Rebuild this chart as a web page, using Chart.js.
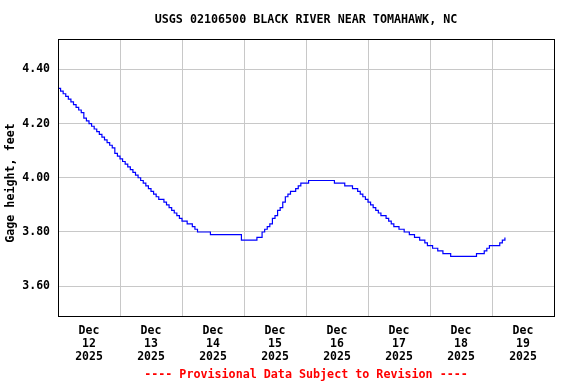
<!DOCTYPE html>
<html>
<head>
<meta charset="utf-8">
<script src="https://cdn.jsdelivr.net/npm/chart.js@4.4.1/dist/chart.umd.min.js"></script>
<style>
  html, body { margin: 0; padding: 0; background: #fff; }
  canvas { display: block; }
</style>
</head>
<body>
<canvas id="gageChart" width="576" height="384"></canvas>
<script>
/* ---------- text ---------- */
const chartTitle = 'USGS 02106500 BLACK RIVER NEAR TOMAHAWK, NC';
const yTitle = 'Gage height, feet';
const footerText = '---- Provisional Data Subject to Revision ----';

/* ---------- axis labels ---------- */
const dayLabels = ['12', '13', '14', '15', '16', '17', '18', '19'];
const yTicks = [3.6, 3.8, 4.0, 4.2, 4.4];

/* ---------- gage height, hourly from Dec 12 2025 00:00 ---------- */
const gage = [
  4.33, 4.32, 4.31, 4.30, 4.29, 4.28, 4.27, 4.26, 4.25, 4.24,   // 0-9
  4.22, 4.21, 4.20, 4.19, 4.18, 4.17, 4.16, 4.15, 4.14, 4.13,   // 10-19
  4.12, 4.11, 4.09, 4.08, 4.07, 4.06, 4.05, 4.04, 4.03, 4.02,   // 20-29
  4.01, 4.00, 3.99, 3.98, 3.97, 3.96, 3.95, 3.94, 3.93, 3.92,   // 30-39
  3.92, 3.91, 3.90, 3.89, 3.88, 3.87, 3.86, 3.85, 3.84, 3.84,   // 40-49
  3.83, 3.83, 3.82, 3.81, 3.80, 3.80, 3.80, 3.80, 3.80, 3.79,   // 50-59
  3.79, 3.79, 3.79, 3.79, 3.79, 3.79, 3.79, 3.79, 3.79, 3.79,   // 60-69
  3.79, 3.77, 3.77, 3.77, 3.77, 3.77, 3.77, 3.78, 3.78, 3.80,   // 70-79
  3.81, 3.82, 3.83, 3.85, 3.86, 3.88, 3.89, 3.91, 3.93, 3.94,   // 80-89
  3.95, 3.95, 3.96, 3.97, 3.98, 3.98, 3.98, 3.99, 3.99, 3.99,   // 90-99
  3.99, 3.99, 3.99, 3.99, 3.99, 3.99, 3.99, 3.98, 3.98, 3.98,   // 100-109
  3.98, 3.97, 3.97, 3.97, 3.96, 3.96, 3.95, 3.94, 3.93, 3.92,   // 110-119
  3.91, 3.90, 3.89, 3.88, 3.87, 3.86, 3.86, 3.85, 3.84, 3.83,   // 120-129
  3.82, 3.82, 3.81, 3.81, 3.80, 3.80, 3.79, 3.79, 3.78, 3.78,   // 130-139
  3.77, 3.77, 3.76, 3.75, 3.75, 3.74, 3.74, 3.73, 3.73, 3.72,   // 140-149
  3.72, 3.72, 3.71, 3.71, 3.71, 3.71, 3.71, 3.71, 3.71, 3.71,   // 150-159
  3.71, 3.71, 3.72, 3.72, 3.72, 3.73, 3.74, 3.75, 3.75, 3.75,   // 160-169
  3.75, 3.76, 3.77, 3.78                                        // 170-173
];

const FONT = '"DejaVu Sans Mono", "Liberation Mono", monospace';
const tickFont = { family: FONT, size: 11.5, weight: 'bold', lineHeight: 1.13 };
const GRID = '#c8c8c8';

/* ---------- frame + titles ---------- */
const decor = {
  id: 'decor',
  afterDraw(chart) {
    const { ctx, chartArea: a } = chart;
    ctx.save();
    ctx.strokeStyle = '#000';
    ctx.lineWidth = 1;
    ctx.strokeRect(a.left + 0.5, a.top + 0.5, a.right - a.left, a.bottom - a.top);

    ctx.font = 'bold 11.7px ' + FONT;
    ctx.textAlign = 'center';
    ctx.textBaseline = 'middle';
    const cx = (a.left + a.right) / 2;
    ctx.fillStyle = '#000';
    ctx.fillText(chartTitle, cx, 20);
    ctx.fillStyle = '#ff0000';
    ctx.fillText(footerText, cx, 375);

    ctx.fillStyle = '#000';
    ctx.translate(11, 183);
    ctx.rotate(-Math.PI / 2);
    ctx.fillText(yTitle, 0, 0);
    ctx.restore();
  }
};

new Chart(document.getElementById('gageChart'), {
  type: 'line',
  data: {
    datasets: [{
      data: gage.map((v, i) => ({ x: i, y: v })),
      borderColor: '#0000ff',
      borderWidth: 1.2,
      pointRadius: 0,
      stepped: true,
      fill: false
    }]
  },
  options: {
    responsive: false,
    animation: false,
    devicePixelRatio: 1,
    layout: { padding: { top: 39, right: 22, left: 0, bottom: 0 } },
    plugins: { legend: { display: false }, tooltip: { enabled: false }, title: { display: false } },
    scales: {
      x: {
        type: 'linear',
        min: 0,
        max: 192,
        afterBuildTicks: s => {
          s.ticks = [];
          for (let h = 0; h <= 192; h += 12) s.ticks.push({ value: h });
        },
        grid: {
          color: c => (c.tick && c.tick.value % 24 === 0) ? GRID : 'rgba(0,0,0,0)',
          drawTicks: false
        },
        border: { display: false },
        ticks: {
          autoSkip: false,
          maxRotation: 0,
          padding: 9,
          color: '#000',
          font: tickFont,
          callback: v => (v % 24 === 12) ? ['Dec', dayLabels[(v - 12) / 24], '2025'] : ''
        },
        afterFit: s => { s.height = 68; }
      },
      y: {
        min: 3.49,
        max: 4.512,
        afterBuildTicks: s => { s.ticks = yTicks.map(v => ({ value: v })); },
        grid: { color: GRID, drawTicks: false },
        border: { display: false },
        ticks: {
          padding: 8,
          color: '#000',
          font: tickFont,
          callback: v => v.toFixed(2)
        },
        afterFit: s => { s.width = 58; }
      }
    }
  },
  plugins: [decor]
});
</script>
</body>
</html>
